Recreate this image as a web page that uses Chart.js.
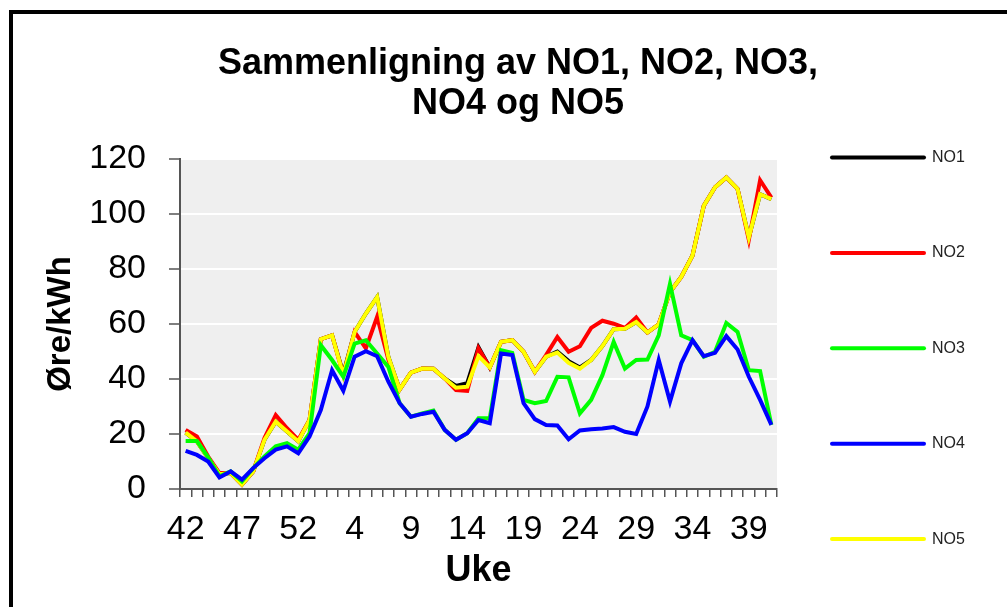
<!DOCTYPE html>
<html lang="no">
<head>
<meta charset="utf-8">
<title>Sammenligning av NO1, NO2, NO3, NO4 og NO5</title>
<script src="https://cdn.jsdelivr.net/npm/chart.js@4.4.1/dist/chart.umd.min.js"></script>
<style>
    html, body { margin: 0; padding: 0; background: #fff; overflow: hidden; }
    #frame { position: absolute; left: 9px; top: 10px; width: 1100px; height: 700px; border: 4px solid #000; box-sizing: border-box; }
    #chart { position: absolute; left: 0; top: 0; }
</style>
</head>
<body>
<div id="frame"></div>
<canvas id="chart" width="1007" height="607"></canvas>
<script>
(function () {
    // uke 42-53 (2020) og 1-41 (2021)
    const weeks = [42, 43, 44, 45, 46, 47, 48, 49, 50, 51, 52, 53,
        1, 2, 3, 4, 5, 6, 7, 8, 9, 10, 11, 12, 13, 14, 15, 16, 17, 18, 19, 20,
        21, 22, 23, 24, 25, 26, 27, 28, 29, 30, 31, 32, 33, 34, 35, 36, 37, 38, 39, 40, 41];

    const no1 = [20.5, 17.3, 11.2, 5.4, 5.8, 1.6, 6.4, 17.9, 24.5, 20.9, 17.3, 25.1,
        54.5, 55.9, 42.0, 57.1, 63.8, 69.8, 48.0, 36.2, 42.3, 43.8, 43.7, 40.2, 37.5, 38.5,
        51.5, 44.2, 53.5, 54.1, 49.9, 42.6, 48.1, 50.0, 46.5, 44.2, 46.9, 52.0, 58.1, 58.3,
        60.7, 56.9, 59.9, 71.6, 77.1, 84.9, 103.0, 109.7, 113.3, 109.1, 91.5, 107.2, 105.4];
    const no2 = [21.5, 19.1, 11.8, 5.8, 5.8, 1.6, 6.4, 18.5, 26.9, 22.1, 17.9, 25.1,
        54.5, 55.9, 41.4, 57.1, 51.1, 62.6, 47.0, 36.2, 42.3, 43.8, 43.7, 40.2, 36.0, 35.7,
        51.1, 44.2, 53.5, 54.1, 49.9, 42.6, 48.7, 55.3, 49.9, 51.9, 58.6, 61.2, 60.1, 58.6,
        62.4, 56.9, 59.9, 71.6, 77.1, 84.9, 103.0, 109.7, 113.3, 109.1, 90.6, 112.3, 106.0];
    const no3 = [17.5, 17.5, 11.5, 4.6, 6.4, 2.8, 7.6, 11.8, 15.5, 16.7, 14.3, 20.3,
        52.3, 46.9, 40.8, 52.9, 54.1, 49.3, 44.4, 31.2, 26.3, 27.5, 28.5, 21.5, 17.9, 20.3,
        25.7, 25.7, 50.5, 49.5, 32.4, 31.2, 32.0, 40.8, 40.6, 27.5, 32.4, 41.4, 53.5, 43.8,
        46.9, 47.1, 55.9, 74.6, 55.9, 54.1, 48.1, 49.9, 60.4, 57.1, 43.2, 42.9, 23.3];
    const no4 = [13.9, 12.4, 10.0, 4.2, 6.4, 3.4, 7.6, 11.2, 14.3, 15.5, 13.0, 19.1,
        28.7, 43.2, 35.7, 48.1, 50.1, 48.3, 39.0, 31.2, 26.3, 27.3, 28.1, 21.5, 17.9, 20.3,
        25.1, 23.9, 49.3, 48.7, 31.2, 25.4, 23.3, 23.1, 18.1, 21.3, 21.7, 22.0, 22.5, 20.8,
        20.0, 30.0, 46.9, 31.8, 45.7, 54.1, 48.3, 49.5, 55.6, 50.7, 40.8, 32.4, 23.3];
    const no5 = [20.5, 17.3, 11.2, 5.4, 5.8, 1.6, 6.4, 17.9, 24.5, 20.9, 17.3, 25.1,
        54.5, 55.9, 41.4, 57.1, 63.8, 69.8, 48.0, 36.2, 42.3, 43.8, 43.7, 40.2, 36.8, 37.2,
        48.3, 44.2, 53.5, 54.1, 49.9, 42.6, 48.1, 49.6, 45.9, 43.8, 46.9, 52.0, 58.1, 58.3,
        60.7, 56.9, 59.9, 71.6, 77.1, 84.9, 103.0, 109.7, 113.3, 109.1, 91.5, 107.2, 105.4];

    const seriesNames = ['NO1', 'NO2', 'NO3', 'NO4', 'NO5'];
    const seriesColors = ['#000000', '#ff0000', '#00ff00', '#0000ff', '#ffff00'];
    const seriesData = [no1, no2, no3, no4, no5];
    const drawOrder = [4, 3, 1, 0, 2]; // blå øverst, svart nederst

    const yTicks = { min: 0, max: 120, step: 20 };
    const font = "'Liberation Sans', Arial, sans-serif";
    const axisColor = '#555555';

    const plotBackground = {
        id: 'plotBackground',
        beforeDraw(chart) {
            const { ctx, chartArea } = chart;
            ctx.save();
            ctx.fillStyle = '#efefef';
            ctx.fillRect(chartArea.left, chartArea.top, chartArea.right - chartArea.left, chartArea.bottom - chartArea.top);
            ctx.restore();
        },
    };

    // legenden står langt ut til høyre med stor avstand mellom linjene
    const sideLegend = {
        id: 'sideLegend',
        afterDraw(chart) {
            const { ctx, chartArea } = chart;
            const x0 = chartArea.right + 55;
            const x1 = x0 + 92;
            const step = 95.4;
            ctx.save();
            chart.data.datasets.forEach((ds, i) => {
                const y = chartArea.top - 1.5 + i * step;
                ctx.strokeStyle = ds.borderColor;
                ctx.lineWidth = 4;
                ctx.lineCap = 'round';
                ctx.beginPath();
                ctx.moveTo(x0, y);
                ctx.lineTo(x1, y);
                ctx.stroke();
                ctx.fillStyle = '#222222';
                ctx.font = '16px ' + font;
                ctx.textBaseline = 'middle';
                ctx.textAlign = 'left';
                ctx.fillText(ds.label, x1 + 8, y);
            });
            ctx.restore();
        },
    };

    try {
        new Chart(document.getElementById('chart'), {
            type: 'line',
            data: {
                labels: weeks,
                datasets: seriesNames.map((name, i) => ({
                    label: name,
                    data: seriesData[i],
                    borderColor: seriesColors[i],
                    backgroundColor: seriesColors[i],
                    borderWidth: 4,
                    pointRadius: 0,
                    tension: 0,
                    fill: false,
                    order: drawOrder[i],
                })),
            },
            options: {
                responsive: false,
                animation: false,
                devicePixelRatio: 1,
                layout: { padding: { left: 29, right: 0, top: 0, bottom: 0 } },
                plugins: {
                    legend: { display: false },
                    tooltip: { enabled: false },
                    title: {
                        display: true,
                        text: ['Sammenligning av NO1, NO2, NO3,', 'NO4 og NO5'],
                        color: '#000000',
                        font: { family: font, size: 36, weight: 'bold', lineHeight: 40 / 36 },
                        padding: { top: 44, bottom: 35 },
                    },
                },
                scales: {
                    x: {
                        type: 'category',
                        offset: true,
                        afterFit(scale) { scale.height = 118; },
                        grid: {
                            offset: true,
                            drawOnChartArea: false,
                            drawTicks: true,
                            tickLength: 8,
                            tickColor: axisColor,
                            lineWidth: 1.5,
                        },
                        border: { display: true, color: axisColor, width: 2 },
                        ticks: {
                            autoSkip: false,
                            maxRotation: 0,
                            minRotation: 0,
                            padding: 12,
                            color: '#000000',
                            font: { family: font, size: 34 },
                            callback: (value, index) => (index % 5 === 0 ? String(weeks[index]) : ''),
                        },
                        title: {
                            display: true,
                            text: 'Uke',
                            color: '#000000',
                            font: { family: font, size: 36, weight: 'bold' },
                            padding: { top: 0, bottom: 14 },
                        },
                    },
                    y: {
                        min: yTicks.min,
                        max: yTicks.max,
                        afterFit(scale) { scale.width = 151; },
                        grid: {
                            color: '#ffffff',
                            lineWidth: 2,
                            drawTicks: true,
                            tickLength: 11,
                            tickColor: axisColor,
                            tickWidth: 1.5,
                        },
                        border: { display: true, color: axisColor, width: 2 },
                        ticks: {
                            stepSize: yTicks.step,
                            padding: 23,
                            color: '#000000',
                            font: { family: font, size: 34 },
                        },
                        title: {
                            display: true,
                            text: 'Øre/kWh',
                            color: '#000000',
                            font: { family: font, size: 33, weight: 'bold' },
                            padding: { top: 12, bottom: 0 },
                        },
                    },
                    // tom akse som holder plass til legenden til høyre
                    legendSpace: {
                        type: 'linear',
                        position: 'right',
                        display: true,
                        afterFit(scale) { scale.width = 230; },
                        grid: { display: false },
                        border: { display: false },
                        ticks: { display: false },
                    },
                },
            },
            plugins: [plotBackground, sideLegend],
        });
    } catch (error) {
        console.error('Feil ved tegning av diagrammet:', error);
    }
})();
</script>
</body>
</html>
